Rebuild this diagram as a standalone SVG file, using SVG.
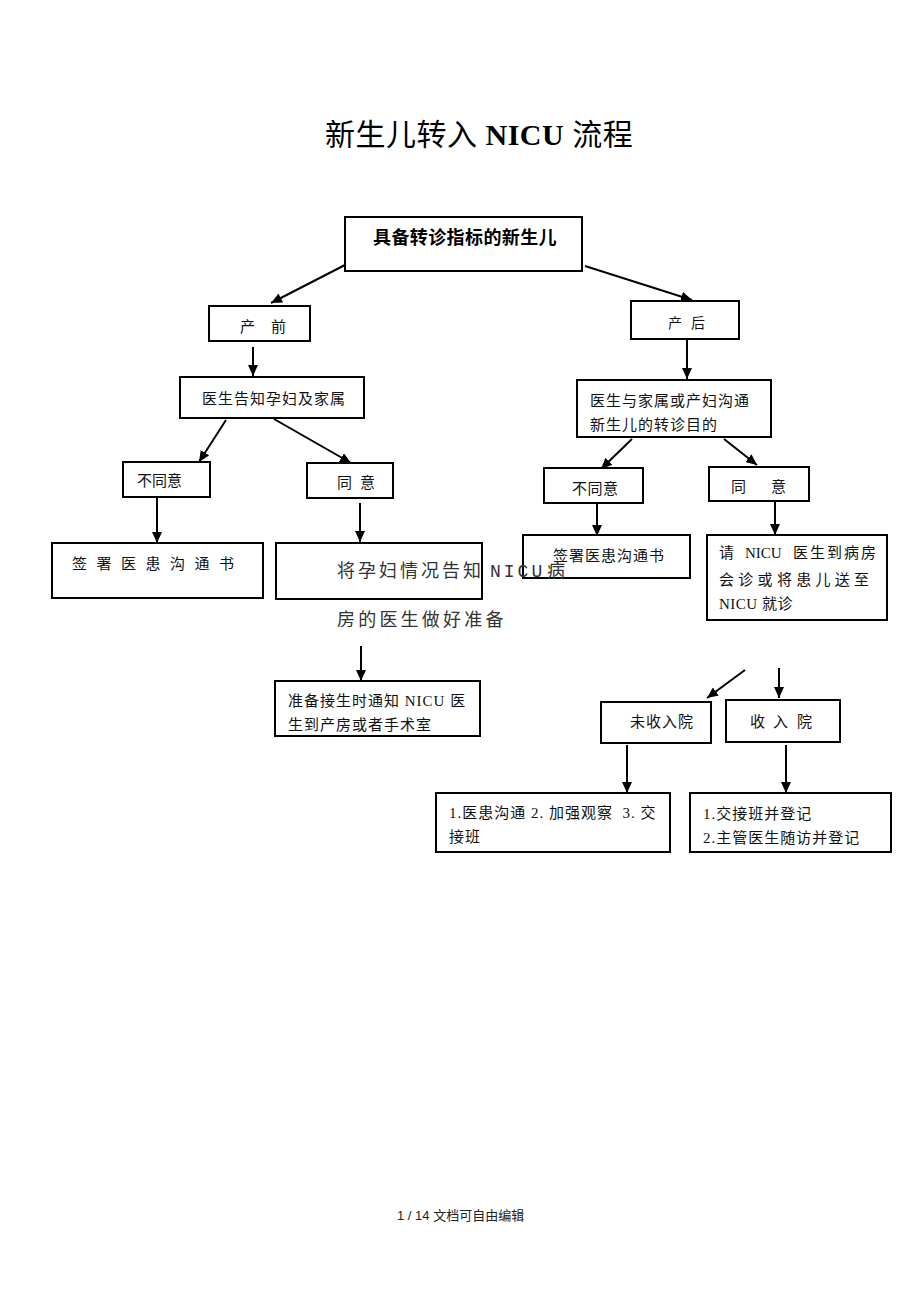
<svg xmlns="http://www.w3.org/2000/svg" width="920" height="1302" viewBox="0 0 920 1302">
<style>
.bx{fill:#fff;stroke:#000;stroke-width:2}
.t{font-family:"Liberation Serif","Noto Sans CJK SC",serif;font-size:15px;fill:#111;letter-spacing:1px}
.ar{stroke:#000;stroke-width:2;fill:none;marker-end:url(#ah)}
.fs{font-family:"Liberation Mono","Noto Sans CJK SC",monospace;font-size:18px;fill:#333}
</style>
<defs>
<marker id="ah" markerUnits="userSpaceOnUse" markerWidth="12" markerHeight="10" refX="11" refY="5" orient="auto">
<path d="M0,0 L11,5 L0,10 z" fill="#000"/>
</marker>
</defs>
<rect width="920" height="1302" fill="#fff"/>
<text x="325" y="145" font-family="Liberation Serif,'Noto Sans CJK SC',serif" font-size="30" fill="#000" letter-spacing="0.5"><tspan>新生儿转入</tspan><tspan font-weight="bold"> NICU </tspan><tspan>流程</tspan></text>

<g id="connectors">
<line class="ar" x1="345" y1="265" x2="271" y2="303"/>
<line class="ar" x1="585" y1="266" x2="692" y2="300"/>
<line class="ar" x1="253" y1="347" x2="253" y2="376"/>
<line class="ar" x1="687" y1="340" x2="687" y2="379"/>
<line class="ar" x1="226" y1="420" x2="199" y2="462"/>
<line class="ar" x1="274" y1="419" x2="351" y2="463"/>
<line class="ar" x1="157" y1="498" x2="157" y2="543"/>
<line class="ar" x1="360" y1="503" x2="360" y2="542"/>
<line class="ar" x1="361" y1="646" x2="361" y2="681"/>
<line class="ar" x1="632" y1="439" x2="601" y2="469"/>
<line class="ar" x1="724" y1="439" x2="757" y2="465"/>
<line class="ar" x1="597" y1="504" x2="597" y2="536"/>
<line class="ar" x1="775" y1="502" x2="775" y2="535"/>
<line class="ar" x1="745" y1="670" x2="707" y2="698"/>
<line class="ar" x1="779" y1="668" x2="779" y2="698"/>
<line class="ar" x1="627" y1="745" x2="627" y2="793"/>
<line class="ar" x1="786" y1="745" x2="786" y2="793"/>
</g>

<g id="n-root">
<rect class="bx" x="345" y="217" width="237" height="54"/>
<text x="373" y="244" font-family="'Noto Sans CJK SC',sans-serif" font-size="18" font-weight="bold" fill="#000" letter-spacing="0.4">具备转诊指标的新生儿</text>
</g>
<g id="n-chanqian">
<rect class="bx" x="209" y="306" width="101" height="35"/>
<text class="t" y="332" font-size="14" fill="#444"><tspan x="240">产</tspan><tspan x="271">前</tspan></text>
</g>
<g id="n-chanhou">
<rect class="bx" x="631" y="301" width="108" height="38"/>
<text class="t" y="328" style="font-size:14px" fill="#444"><tspan x="668">产</tspan><tspan x="691">后</tspan></text>
</g>
<g id="n-gaozhi">
<rect class="bx" x="180" y="377" width="184" height="41"/>
<text class="t" x="202" y="404">医生告知孕妇及家属</text>
</g>
<g id="n-goutong">
<rect class="bx" x="577" y="380" width="194" height="57"/>
<text class="t" x="590" y="406">医生与家属或产妇沟通</text>
<text class="t" x="590" y="430">新生儿的转诊目的</text>
</g>
<g id="n-butongyi-l">
<rect class="bx" x="123" y="462" width="87" height="35"/>
<text class="t" x="137" y="486" style="letter-spacing:0">不同意</text>
</g>
<g id="n-tongyi-l">
<rect class="bx" x="307" y="463" width="86" height="35"/>
<text class="t" y="488"><tspan x="337">同</tspan><tspan x="360">意</tspan></text>
</g>
<g id="n-qianshu-l">
<rect class="bx" x="52" y="543" width="211" height="55"/>
<text class="t" x="72" y="569" style="letter-spacing:9.5px">签署医患沟通书</text>
</g>
<g id="n-jiangyunfu">
<rect class="bx" x="276" y="543" width="206" height="56"/>
</g>
<g id="n-zhunbei">
<rect class="bx" x="275" y="681" width="205" height="55"/>
<text class="t" x="288" y="706">准备接生时通知 NICU 医</text>
<text class="t" x="288" y="730">生到产房或者手术室</text>
</g>
<g id="n-butongyi-r">
<rect class="bx" x="544" y="468" width="99" height="35"/>
<text class="t" x="572" y="494" style="letter-spacing:0.5px">不同意</text>
</g>
<g id="n-tongyi-r">
<rect class="bx" x="709" y="467" width="100" height="34"/>
<text class="t" y="492"><tspan x="731">同</tspan><tspan x="771">意</tspan></text>
</g>
<g id="n-qianshu-r">
<rect class="bx" x="523" y="535" width="167" height="43"/>
<text class="t" x="553" y="561">签署医患沟通书</text>
</g>
<g id="n-qing">
<rect class="bx" x="707" y="535" width="180" height="85"/>
<text class="t" y="558"><tspan x="719">请</tspan><tspan x="745" style="letter-spacing:0">NICU</tspan><tspan x="793" style="letter-spacing:2px">医生到病房</tspan></text>
<text class="t" x="719" y="585" style="letter-spacing:4.3px">会诊或将患儿送至</text>
<text class="t" x="719" y="609" style="letter-spacing:0.5px">NICU 就诊</text>
</g>
<g id="n-jiangyunfu-text">
<text class="fs" y="577"><tspan x="337" style="letter-spacing:3px">将孕妇情况告知</tspan><tspan x="490" style="letter-spacing:3px">NICU</tspan><tspan x="547">病</tspan></text>
<text class="fs" x="337" y="626" style="letter-spacing:3.2px">房的医生做好准备</text>
</g>
<g id="n-weishou">
<rect class="bx" x="601" y="702" width="110" height="41"/>
<text class="t" x="630" y="727">未收入院</text>
</g>
<g id="n-shou">
<rect class="bx" x="726" y="700" width="114" height="42"/>
<text class="t" y="727"><tspan x="750">收</tspan><tspan x="773">入</tspan><tspan x="797">院</tspan></text>
</g>
<g id="n-yihuan">
<rect class="bx" x="436" y="793" width="234" height="59"/>
<text class="t" x="449" y="818" xml:space="preserve">1.医患沟通 2. 加强观察  3. 交</text>
<text class="t" x="449" y="842">接班</text>
</g>
<g id="n-jiaojie">
<rect class="bx" x="690" y="793" width="201" height="59"/>
<text class="t" x="703" y="819">1.交接班并登记</text>
<text class="t" x="703" y="843">2.主管医生随访并登记</text>
</g>
<text x="397" y="1220" font-family="'Liberation Sans','Noto Sans CJK SC',sans-serif" font-size="13" fill="#222" xml:space="preserve">1 / 14 文档可自由编辑</text>
</svg>
